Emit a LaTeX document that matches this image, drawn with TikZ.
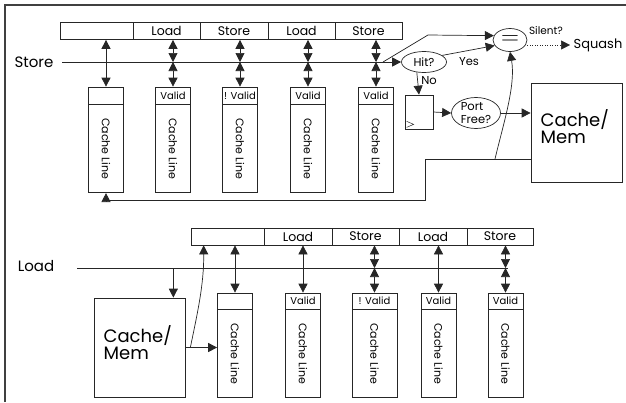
\documentclass[tikz,border=0pt]{standalone}
\usepackage{fontspec}
\setmainfont{Poppins}
\usetikzlibrary{arrows.meta,shapes.geometric}

\tikzset{
    cell/.style={draw, rectangle, minimum height=17pt, inner sep=0pt, font=\fontsize{12.5}{12.5}\selectfont},
    hdr/.style={draw, rectangle, minimum width=35pt, minimum height=17pt, inner sep=0pt, font=\fontsize{10}{10}\selectfont},
    body/.style={draw, rectangle, minimum width=35pt, minimum height=88pt, inner sep=0pt, font=\fontsize{11}{11}\selectfont},
    oval/.style={draw, ellipse, inner xsep=-4pt, inner ysep=-3pt, align=left, font=\fontsize{11.5}{13}\selectfont},
    membox/.style={draw, rectangle, minimum width=91pt, minimum height=99pt},
    memtext/.style={anchor=west, align=left, font=\fontsize{18}{17}\selectfont},
    arr/.style={-{Triangle[length=9pt,width=9pt]}},
    dbl/.style={{Triangle[length=9pt,width=9pt]}-{Triangle[length=9pt,width=9pt]}}
}

\begin{document}
\begin{tikzpicture}[x=1pt,y=-1pt,line width=0.7pt,draw=black!85]
    \useasboundingbox (0,0) rectangle (626,402);
    % frame
    \draw[black!75,line width=2pt] (5,402) -- (5,5) -- (626,5);

    % store section
    \node[cell,minimum width=73pt] (sb0) at (96.5,31) {};
    \node[cell,minimum width=67pt] (sb1) at (166.5,31) {Load};
    \node[cell,minimum width=68pt] (sb2) at (234,31) {Store};
    \node[cell,minimum width=67pt] (sb3) at (301.5,31) {Load};
    \node[cell,minimum width=67pt] (sb4) at (368.5,31) {Store};

    \node[hdr] (sh1) at (106,95.5) {};
    \node[hdr] (sh2) at (173,95.5) {Valid};
    \node[hdr] (sh3) at (240,95.5) {! Valid};
    \node[hdr] (sh4) at (308,95.5) {Valid};
    \node[hdr] (sh5) at (376,95.5) {Valid};
    \node[body,anchor=north] (sl1) at (sh1.south) {\rotatebox{-90}{Cache Line}};
    \node[body,anchor=north] (sl2) at (sh2.south) {\rotatebox{-90}{Cache Line}};
    \node[body,anchor=north] (sl3) at (sh3.south) {\rotatebox{-90}{Cache Line}};
    \node[body,anchor=north] (sl4) at (sh4.south) {\rotatebox{-90}{Cache Line}};
    \node[body,anchor=north] (sl5) at (sh5.south) {\rotatebox{-90}{Cache Line}};

    \node[font=\fontsize{15}{15}\selectfont] (store) at (34,62) {Store};
    \coordinate (st-w) at (62,62);
    \coordinate (st-e) at (383,62);
    \draw (st-w) -- (st-e);

    \draw[dbl] (sh1.north) -- (sh1.north |- sb0.south);
    \draw[dbl] (sh2.north) -- (sh2.north |- st-e);
    \draw[dbl] (sh2.north |- st-e) -- (sh2.north |- sb1.south);
    \draw[dbl] (sh3.north) -- (sh3.north |- st-e);
    \draw[dbl] (sh3.north |- st-e) -- (sh3.north |- sb2.south);
    \draw[dbl] (sh4.north) -- (sh4.north |- st-e);
    \draw[dbl] (sh4.north |- st-e) -- (sh4.north |- sb3.south);
    \draw[dbl] (sh5.north) -- (sh5.north |- st-e);
    \draw[dbl] (sh5.north |- st-e) -- (sh5.north |- sb4.south);

    \node[oval,minimum width=45pt,minimum height=21pt] (hit) at (424,62) {Hit?};
    \node[draw,ellipse,minimum width=34pt,minimum height=23pt,inner sep=0pt] (eq) at (510,40) {\fontsize{30}{30}\selectfont$=$};
    \coordinate (kink) at (428,35);
    \draw[arr] (st-e) -- (hit.west);
    \draw[arr] (st-e) -- (kink) -- (eq.165);
    \draw[arr] (hit.20) -- (eq.200);
    \node[font=\fontsize{11.5}{11.5}\selectfont] (yes) at (469,62) {Yes};

    \node[draw,rectangle,minimum width=28pt,minimum height=34pt,inner sep=0pt] (reg) at (419,112) {};
    \draw[line width=0.5pt] (reg.south west) ++(2,-8) -- ++(7,3) -- ++(-7,3);
    \draw[arr] (hit.235) -- (reg.north);
    \node[font=\fontsize{11.5}{11.5}\selectfont] (no) at (429,81) {No};

    \node[oval,minimum width=49pt,minimum height=31pt] (port) at (476,113) {Port\\Free?};
    \draw[arr] (reg.east) -- (port.west);
    \node[membox] (mem1) at (576.5,132.5) {};
    \node[memtext] (mem1t) at (537,127) {Cache/\\Mem};
    \draw[arr] (port.east) -- (port.east -| mem1.west);

    \node[font=\fontsize{10.5}{10.5}\selectfont] (silent) at (546,31) {Silent?};
    \node[font=\fontsize{13}{13}\selectfont] (squash) at (598,45) {Squash};
    \draw[arr,dotted,line width=0.5pt] (eq.east |- squash) -- (squash.west);

    \coordinate (tap) at (425,159);
    \coordinate (split) at (495,159);
    \draw[arr] (tap -| mem1.west) -- (tap) -- ++(0,41) -| (sl1.south);
    \draw[arr] (split) .. controls (503,125) and (516,85) .. (eq.south);

    % load section
    \node[cell,minimum width=73pt] (lb0) at (227.5,236.5) {};
    \node[cell,minimum width=68pt] (lb1) at (298,236.5) {Load};
    \node[cell,minimum width=67pt] (lb2) at (365.5,236.5) {Store};
    \node[cell,minimum width=68pt] (lb3) at (433,236.5) {Load};
    \node[cell,minimum width=66pt] (lb4) at (500,236.5) {Store};

    \node[hdr,minimum height=16pt] (lh1) at (235,301) {};
    \node[hdr,minimum height=16pt] (lh2) at (303,301) {Valid};
    \node[hdr,minimum height=16pt,minimum width=45pt] (lh3) at (374.5,301) {! Valid};
    \node[hdr,minimum height=16pt] (lh4) at (438.5,301) {Valid};
    \node[hdr,minimum height=16pt] (lh5) at (505.5,301) {Valid};
    \node[body,anchor=north] (ll1) at (lh1.south) {\rotatebox{-90}{Cache Line}};
    \node[body,anchor=north] (ll2) at (lh2.south) {\rotatebox{-90}{Cache Line}};
    \node[body,anchor=north,minimum width=45pt] (ll3) at (lh3.south) {\rotatebox{-90}{Cache Line}};
    \node[body,anchor=north] (ll4) at (lh4.south) {\rotatebox{-90}{Cache Line}};
    \node[body,anchor=north] (ll5) at (lh5.south) {\rotatebox{-90}{Cache Line}};

    \node[font=\fontsize{15}{15}\selectfont] (load) at (36,266) {Load};
    \coordinate (ld-w) at (77,268);
    \coordinate (ld-e) at (508,268);
    \draw (ld-w) -- (ld-e);

    \draw[dbl] (lh1.north) -- (lh1.north |- lb0.south);
    \draw[dbl] (lh2.north) -- (lh2.north |- lb1.south);
    \draw[dbl] (lh3.north) -- (lh3.north |- ld-e);
    \draw[dbl] (lh3.north |- ld-e) -- (lh3.north |- lb2.south);
    \draw[dbl] (lh4.north) -- (lh4.north |- lb3.south);
    \draw[dbl] (lh5.north) -- (lh5.north |- ld-e);
    \draw[dbl] (lh5.north |- ld-e) -- (lh5.north |- lb4.south);

    \node[membox] (mem2) at (139.5,347.5) {};
    \node[memtext] (mem2t) at (100,343) {Cache/\\Mem};
    \coordinate (mtop) at ([xshift=-12pt]mem2.north east);
    \draw[arr] (mtop |- ld-w) -- (mtop);
    \draw[arr] (mem2.east) -- (mem2.east -| ll1.west);
    \coordinate (split2) at ([xshift=5pt]mem2.east);
    \coordinate (c0in) at ([xshift=13pt]lb0.south west);
    \draw[arr] (split2) .. controls (197,315) and (204,285) .. (c0in);
\end{tikzpicture}
\end{document}
